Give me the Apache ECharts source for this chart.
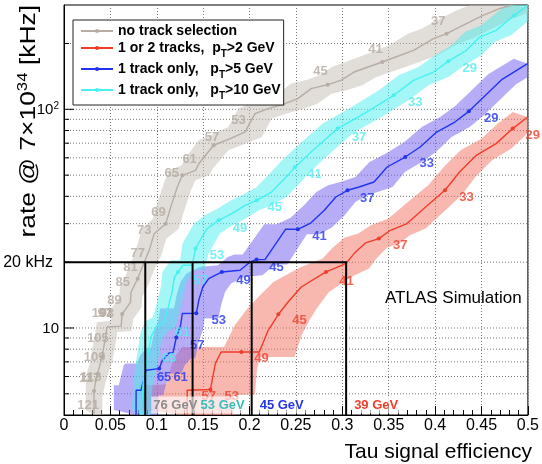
<!DOCTYPE html>
<html><head><meta charset="utf-8">
<script src="https://cdn.jsdelivr.net/npm/echarts@6/dist/echarts.min.js"></script>
<style>html,body{margin:0;padding:0;background:#fff}#c{width:542px;height:464px}</style>
</head><body><div id="c"></div>
<script>
// ---------------- data ----------------
const seriesNames = ['no track selection', '1 or 2 tracks, pT>2 GeV', '1 track only, pT>5 GeV', '1 track only, pT>10 GeV'];

const grayEff  = [0.0324,0.0324,0.0349,0.0377,0.0409,0.0449,0.0463,0.0616,0.0627,0.0716,0.0723,0.0794,0.0830,0.0865,0.0919,0.0972,0.1097,0.1151,0.1221,0.1275,0.1418,0.1453,0.1613,0.1792,0.1952,0.2059,0.2201,0.2361,0.2521,0.2663,0.2842,0.2984,0.3127,0.3430,0.3768,0.3982,0.4124,0.4338,0.4516,0.4693,0.4836];
const grayRate = [4.0,5.15,5.97,6.52,7.37,9.10,10.1,10.2,11.6,13.1,14.6,16.8,18.4,20.0,22.7,27.0,30.0,35.8,44.1,49.9,52.6,56.4,68.5,73.5,78.8,95.6,100.7,105.4,111.9,124.3,129.7,135.7,148.1,164.6,186.2,210.6,221.9,246.6,269.1,288.7,300];
const grayErr  = [0.009,0.009,0.010,0.010,0.011,0.011,0.011,0.011,0.012,0.012,0.012,0.012,0.012,0.012,0.013,0.013,0.014,0.014,0.014,0.014,0.015,0.015,0.016,0.017,0.018,0.018,0.019,0.020,0.021,0.022,0.022,0.023,0.024,0.025,0.026,0.027,0.027,0.028,0.028,0.028,0.028];
const grayDots = [1,4,8,11,16,19,22,27,30,33,36];
const grayLabelText = ['121','117','113','109','105','101','97','93','89','85','81','77','73','69','65','61','57','53','49','45','41','37'];
const grayLabelEff  = [0.026,0.0275,0.0290,0.0331,0.0366,0.0415,0.0440,0.0462,0.0545,0.0634,0.0716,0.0794,0.0865,0.1018,0.1161,0.1354,0.1595,0.1880,0.2297,0.2764,0.3358,0.4035];
const grayLabelRate = [4.43,5.9,5.95,7.37,8.94,11.6,11.7,11.6,13.39,16.23,19.0,22.03,27.98,33.92,51.13,58.9,74.7,89.1,122.2,149.2,187.5,253.3];

const redEff  = [0.1328,0.1328,0.1578,0.1631,0.1693,0.1912,0.2105,0.2201,0.2311,0.2415,0.2557,0.2824,0.3038,0.3127,0.3251,0.3394,0.3518,0.3697,0.3932,0.4106,0.4266,0.4444,0.4658,0.4836,0.4997];
const redRate = [4.0,5.19,5.23,6.87,7.77,7.77,7.77,9.76,11.55,13.15,15.40,18.04,19.70,21.89,24.52,25.63,27.98,30.02,36.78,42.63,51.79,61.62,69.68,81.63,92.2];
const redErr  = [0.050,0.050,0.048,0.045,0.042,0.040,0.038,0.036,0.034,0.032,0.030,0.027,0.025,0.024,0.023,0.022,0.021,0.020,0.019,0.018,0.017,0.017,0.016,0.016,0.016];
const redDots = [2,5,8,11,15,19,23];
const redLabelText = ['57','53','49','45','41','37','33','29'];
const redLabelEff  = [0.1560,0.1809,0.2129,0.2539,0.3045,0.3625,0.4338,0.5053];
const redLabelRate = [4.84,4.84,7.25,10.84,16.35,23.88,39.72,76.0];

const blueEff  = [0.0777,0.0777,0.0830,0.0884,0.0901,0.1026,0.1061,0.1132,0.1175,0.1210,0.1257,0.1275,0.1426,0.1453,0.1496,0.1560,0.1702,0.1898,0.2005,0.2076,0.2166,0.2388,0.2521,0.2663,0.2806,0.2930,0.3056,0.3181,0.3341,0.3483,0.3678,0.3839,0.4017,0.4213,0.4364,0.4516,0.4722,0.4997];
const blueRate = [4.0,5.19,5.19,6.41,6.52,6.52,7.12,7.69,7.69,9.04,10.29,11.64,11.67,13.39,15.40,16.82,18.04,18.36,20.04,20.55,20.55,28.27,28.27,30.27,34.53,39.72,42.63,44.13,46.52,54.48,60.52,67.23,78.74,87.48,97.9,112.9,137.2,161.8];
const blueErr  = [0.024,0.024,0.024,0.024,0.024,0.024,0.024,0.024,0.024,0.024,0.024,0.024,0.024,0.024,0.024,0.024,0.024,0.024,0.024,0.024,0.024,0.023,0.023,0.022,0.022,0.021,0.021,0.020,0.020,0.019,0.018,0.017,0.016,0.016,0.015,0.015,0.015,0.015];
const blueDots = [5,9,12,16,19,22,26,30,34];
const blueLabelText = ['65','61','57','53','49','45','41','37','33','29'];
const blueLabelEff  = [0.1079,0.1257,0.1435,0.1667,0.1934,0.2290,0.2753,0.3269,0.3910,0.4605];
const blueLabelRate = [5.97,5.97,8.33,10.84,16.52,19.0,26.27,39.06,56.45,90.7];

const cyanEff  = [0.0830,0.0855,0.0911,0.0937,0.0997,0.1079,0.1132,0.1168,0.1191,0.1229,0.1282,0.1381,0.1418,0.1488,0.1542,0.1667,0.1809,0.1952,0.2076,0.2233,0.2379,0.2489,0.2663,0.2949,0.3234,0.3554,0.3768,0.3982,0.4142,0.4338,0.4480,0.4658,0.4854,0.4997];
const cyanRate = [4.0,5.77,7.77,9.10,10.18,10.62,12.83,14.87,17.11,18.03,19.35,19.35,23.07,26.07,28.48,31.08,33.36,36.39,38.36,41.74,48.21,54.30,63.78,81.63,95.6,115.9,135.7,148.1,165.8,186.2,214.1,229.7,269.1,299];
const cyanErr  = [0.010,0.010,0.011,0.011,0.012,0.012,0.012,0.012,0.013,0.013,0.013,0.013,0.014,0.014,0.014,0.015,0.015,0.015,0.016,0.016,0.016,0.016,0.016,0.016,0.016,0.016,0.016,0.016,0.016,0.016,0.016,0.016,0.016,0.016];
const cyanDots = [2,9,12,15,18,21,23,25,28,32];
const cyanLabelText = ['65','61','57','53','49','45','41','37','33','29'];
const cyanLabelEff  = [0.1132,0.1275,0.1471,0.1649,0.1898,0.2272,0.2700,0.3181,0.3785,0.4373];
const cyanLabelRate = [7.25,9.59,16.52,21.5,28.48,35.75,50.44,74.7,108,153.5];

const rateLimit = 20;                                   // kHz
const effAt20kHz = [0.0876, 0.1386, 0.2023, 0.3041];
const thresholdAt20kHz = ['76 GeV', '53 GeV', '45 GeV', '39 GeV'];

const xTickStep = 0.05;
const yLabelVals = [10, 100];
const yGridVals = [5,6,7,8,9,10,20,30,40,50,60,70,80,90,100,200];

// ---------------- styling ----------------
const FONT = '"Liberation Sans", Arial, Helvetica, sans-serif';
const X_MIN = 0, X_MAX = 0.5, Y_MIN = 4, Y_MAX = 300;
const PAD = 5;
const C = {
  gray: {line:'#b7ada4', band:'rgba(196,188,180,0.5)', text:'#b4aaa0'},
  red:  {line:'#f03c28', band:'rgba(242,118,104,0.52)', text:'#f0402c'},
  blue: {line:'#2034f0', band:'rgba(116,98,240,0.52)', text:'#2236ee'},
  cyan: {line:'#48f0f0', band:'rgba(76,238,238,0.5)', text:'#50ecf0'}
};
const gevColors = ['#8c8c8c', '#3cbcbc', '#2236ee', '#f0402c'];

const zip = (a, b) => a.map((v, i) => [v, b[i]]);

function bandSeries(eff, rate, err, color) {
  return {
    type: 'custom', silent: true, z: 1, animation: false,
    data: [[eff[0], rate[0]]], encode: {x: 0, y: 1},
    renderItem(params, api) {
      const up = [], lo = [];
      for (let i = 0; i < eff.length; i++) {
        const a = api.coord([eff[i] - err[i], rate[i]]);
        up.push([a[0], a[1] - PAD]);
        const b = api.coord([eff[i] + err[i], rate[i]]);
        lo.push([b[0], b[1] + PAD]);
      }
      const cs = params.coordSys;
      return {type: 'polygon', shape: {points: up.concat(lo.reverse())}, style: {fill: color},
        clipPath: {type: 'rect', shape: {x: cs.x, y: cs.y, width: cs.width, height: cs.height}}};
    }
  };
}
function lineSeries(name, eff, rate, dots, col) {
  return {
    type: 'line', name, data: zip(eff, rate), z: 3, symbol: 'circle', showSymbol: true, showAllSymbol: true,
    symbolSize: (v, p) => dots.includes(p.dataIndex) ? 4 : 0,
    itemStyle: {color: col}, lineStyle: {color: col, width: 1.4}, clip: true, silent: true, animation: false
  };
}
function labelSeries(eff, rate, text, col) {
  return {
    type: 'scatter', z: 4, silent: true, clip: false, animation: false,
    data: eff.map((e, i) => [e, rate[i], text[i]]), symbolSize: 1, itemStyle: {color: 'transparent'},
    label: {show: true, position: 'inside', formatter: p => p.data[2], color: col,
      fontFamily: FONT, fontWeight: 'bold', fontSize: 13}
  };
}

const chart = echarts.init(document.getElementById('c'), null, {renderer: 'canvas', width: 542, height: 464});

const legendRich = {
  t: {fontFamily: FONT, fontWeight: 'bold', fontSize: 14, color: '#000', lineHeight: 16, verticalAlign: 'middle'},
  s: {fontFamily: FONT, fontWeight: 'bold', fontSize: 10, color: '#000', lineHeight: 22, verticalAlign: 'bottom'}
};
const legendFmt = {};
legendFmt[seriesNames[0]] = '{t|no track selection}';
legendFmt[seriesNames[1]] = '{t|1 or 2 tracks,  p}{s|T}{t|>2 GeV}';
legendFmt[seriesNames[2]] = '{t|1 track only,   p}{s|T}{t|>5 GeV}';
legendFmt[seriesNames[3]] = '{t|1 track only,   p}{s|T}{t|>10 GeV}';

const option = {
  animation: false,
  backgroundColor: '#fff',
  grid: {left: 64, right: 10, top: 5, bottom: 49, show: true, borderColor: '#000', borderWidth: 1, backgroundColor: 'transparent'},
  xAxis: {
    type: 'value', min: X_MIN, max: X_MAX, interval: xTickStep,
    axisLine: {show: true, lineStyle: {color: '#000', width: 1}},
    axisTick: {show: true, inside: true, length: 9, lineStyle: {color: '#000'}},
    minorTick: {show: true, splitNumber: 5, length: 5, lineStyle: {color: '#000'}},
    splitLine: {show: true, lineStyle: {color: '#777', type: [1, 2], width: 1}},
    axisLabel: {color: '#000', fontFamily: FONT, fontSize: 16, margin: 3,
      formatter: v => String(Math.round(v * 100) / 100)}
  },
  yAxis: {
    type: 'log', logBase: 10, min: Y_MIN, max: Y_MAX,
    axisLine: {show: true, lineStyle: {color: '#000', width: 1}},
    axisTick: {show: false}, splitLine: {show: false},
    axisLabel: {
      margin: 5, color: '#000', fontFamily: FONT, fontSize: 15,
      formatter: v => {
        if (Math.abs(v - yLabelVals[1]) < 1e-6) return '{a|10}{b|2}';
        if (Math.abs(v - yLabelVals[0]) < 1e-6) return '{a|10}';
        return '';
      },
      rich: {
        a: {fontFamily: FONT, fontSize: 15, color: '#000', lineHeight: 17, verticalAlign: 'bottom'},
        b: {fontFamily: FONT, fontSize: 10, color: '#000', lineHeight: 10, verticalAlign: 'top'}
      }
    }
  },
  legend: {
    orient: 'vertical', left: 73, top: 20, data: [seriesNames[0], seriesNames[1], seriesNames[2], seriesNames[3]],
    backgroundColor: '#fff', borderColor: '#222', borderWidth: 1, padding: [4, 3, 4, 7],
    itemWidth: 32, itemHeight: 5, itemGap: 3, selectedMode: false, z: 10,
    formatter: n => legendFmt[n],
    textStyle: {fontFamily: FONT, fontWeight: 'bold', fontSize: 14, color: '#000', rich: legendRich}
  },
  graphic: [
    {type: 'text', x: 28, y: 5, rotation: Math.PI / 2, scaleX: 1.2, z: 100,
      style: {text: '{a|rate @ 7×10}{b|34}{a| [kHz]}', textAlign: 'right', textVerticalAlign: 'middle',
        rich: {a: {fontFamily: FONT, fontSize: 22, fill: '#000', lineHeight: 24, verticalAlign: 'bottom'},
               b: {fontFamily: FONT, fontSize: 14, fill: '#000', lineHeight: 14, verticalAlign: 'top'}}}},
    {type: 'text', x: 532, y: 452, z: 100,
      style: {text: 'Tau signal efficiency', font: '21px ' + FONT, fill: '#000', textAlign: 'right', textVerticalAlign: 'middle'}},
    {type: 'text', x: 385, y: 298, z: 100,
      style: {text: 'ATLAS Simulation', font: '17px ' + FONT, fill: '#000', textAlign: 'left', textVerticalAlign: 'middle'}}
  ],
  series: [
    // y grid lines and y ticks
    {
      type: 'custom', silent: true, z: 0, animation: false,
      data: yGridVals.map(v => [X_MIN, v]), encode: {x: 0, y: 1},
      renderItem(params, api) {
        const v = api.value(1);
        const p0 = api.coord([X_MIN, v]), p1 = api.coord([X_MAX, v]);
        const major = yLabelVals.includes(v);
        return {type: 'group', children: [
          {type: 'line', shape: {x1: p0[0], y1: p0[1], x2: p1[0], y2: p1[1]}, style: {stroke: '#777', lineDash: [1, 2], lineWidth: 1}},
          {type: 'line', shape: {x1: p0[0], y1: p0[1], x2: p0[0] + (major ? 10 : 5), y2: p0[1]}, style: {stroke: '#000', lineWidth: 1}}
        ]};
      }
    },
    bandSeries(grayEff, grayRate, grayErr, C.gray.band),
    bandSeries(redEff, redRate, redErr, C.red.band),
    bandSeries(blueEff, blueRate, blueErr, C.blue.band),
    bandSeries(cyanEff, cyanRate, cyanErr, C.cyan.band),
    lineSeries(seriesNames[0], grayEff, grayRate, grayDots, C.gray.line),
    lineSeries(seriesNames[1], redEff, redRate, redDots, C.red.line),
    lineSeries(seriesNames[2], blueEff, blueRate, blueDots, C.blue.line),
    lineSeries(seriesNames[3], cyanEff, cyanRate, cyanDots, C.cyan.line),
    labelSeries(grayLabelEff, grayLabelRate, grayLabelText, C.gray.text),
    labelSeries(redLabelEff, redLabelRate, redLabelText, C.red.text),
    labelSeries(blueLabelEff, blueLabelRate, blueLabelText, C.blue.text),
    labelSeries(cyanLabelEff, cyanLabelRate, cyanLabelText, C.cyan.text),
    // 20 kHz working point lines and threshold labels
    {
      type: 'custom', silent: true, z: 6, animation: false,
      data: effAt20kHz.map((e, i) => [e, rateLimit, i]), encode: {x: 0, y: 1},
      renderItem(params, api) {
        const e = api.value(0), r = api.value(1), i = api.value(2);
        const top = api.coord([e, r]), bot = api.coord([e, Y_MIN]);
        const ch = [
          {type: 'line', shape: {x1: top[0], y1: top[1], x2: bot[0], y2: bot[1]}, style: {stroke: '#000', lineWidth: 2}},
          {type: 'text', x: bot[0] + 6, y: bot[1] - 10, z2: 10,
            style: {text: thresholdAt20kHz[i], fill: gevColors[i], font: 'bold 13px ' + FONT, textAlign: 'left', textVerticalAlign: 'middle',
              backgroundColor: 'rgba(255,255,255,0.65)', padding: [2, 2, 2, 2]}}
        ];
        if (i === effAt20kHz.length - 1) {
          const l = api.coord([X_MIN, r]);
          ch.push({type: 'line', shape: {x1: l[0], y1: l[1], x2: top[0] + 1, y2: top[1]}, style: {stroke: '#000', lineWidth: 2}});
          ch.push({type: 'text', x: l[0] - 11, y: l[1], style: {text: rateLimit + ' kHz', font: '16px ' + FONT, fill: '#000', textAlign: 'right', textVerticalAlign: 'middle'}});
        }
        return {type: 'group', children: ch};
      }
    }
  ]
};
chart.setOption(option);
</script>
</body></html>
